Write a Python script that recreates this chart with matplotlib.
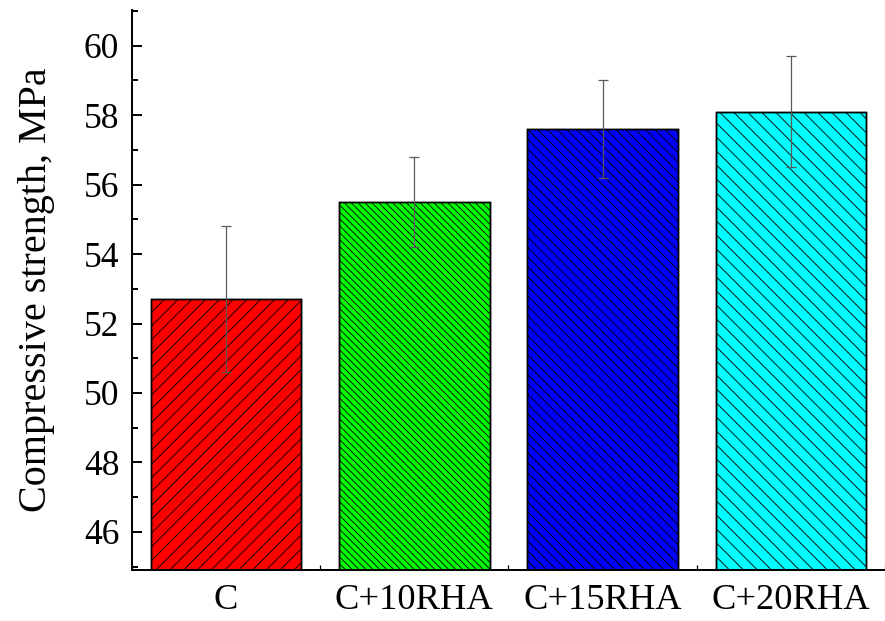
import numpy as np
import matplotlib
matplotlib.use("Agg")
import matplotlib.pyplot as plt
from matplotlib.ticker import MultipleLocator, FixedLocator
from matplotlib.collections import LineCollection
from matplotlib.transforms import IdentityTransform

# compressive strength of concrete mixes
mixes = ["C", "C+10RHA", "C+15RHA", "C+20RHA"]
strength = [52.7, 55.5, 57.6, 58.1]
err = [2.1, 1.3, 1.4, 1.6]
colors = ["#ff0000", "#00ff00", "#0000ff", "#00ffff"]
# hatch direction (+1 = "/", -1 = "\") and line spacing in pixels
hatch_dir = [1, -1, -1, -1]
hatch_gap = [13.8, 6.9, 9.8, 14.0]

plt.rcParams["font.family"] = ["Liberation Serif", "DejaVu Serif"]

DPI = 75
fig = plt.figure(figsize=(885 / DPI, 621 / DPI), dpi=DPI)
ax = fig.add_axes([0.149, 0.082, 0.851, 0.902])

ax.set_xlim(-0.5, 3.5)
ax.set_ylim(44.9, 61.03)

x = np.arange(len(mixes))
bars = ax.bar(x, strength, width=0.8, color=colors, edgecolor="black",
              linewidth=1.4, zorder=2)

# hand made hatching so the line spacing can differ from bar to bar
y_lo = ax.get_ylim()[0]
for bar, d, gap in zip(bars, hatch_dir, hatch_gap):
    (px0, py0), (px1, py1) = ax.transData.transform(
        [[bar.get_x(), y_lo], [bar.get_x() + bar.get_width(), bar.get_height()]])
    h = py1 - py0
    segs = []
    if d > 0:
        for xs in np.arange(px0 - h, px1 + gap, gap):
            segs.append([(xs, py0), (xs + h, py1)])
    else:
        for xs in np.arange(px0, px1 + h + gap, gap):
            segs.append([(xs, py0), (xs - h, py1)])
    lc = LineCollection(segs, colors="black", linewidths=0.85,
                        transform=IdentityTransform(), zorder=2.5)
    ax.add_collection(lc, autolim=False)
    lc.set_clip_path(bar)

# outline again on top of the hatching
ax.bar(x, strength, width=0.8, facecolor="none", edgecolor="black",
       linewidth=1.4, zorder=2.6)

ax.errorbar(x, strength, yerr=err, fmt="none", ecolor="#5a5a5a",
            elinewidth=1.2, capsize=5, capthick=1.2, zorder=3)

ax.set_xlim(-0.5, 3.5)
ax.set_ylim(44.9, 61.03)
ax.set_xticks(x)
ax.set_xticklabels(mixes)
ax.xaxis.set_minor_locator(FixedLocator([-0.5, 0.5, 1.5, 2.5, 3.5]))
ax.set_yticks(np.arange(46, 61, 2))
ax.yaxis.set_minor_locator(MultipleLocator(1))

ax.spines["top"].set_visible(False)
ax.spines["right"].set_visible(False)
ax.spines["left"].set_linewidth(1.9)
ax.spines["bottom"].set_linewidth(1.9)

ax.tick_params(axis="y", which="major", direction="in", length=10, width=1.9,
               labelsize=34, pad=12)
ax.tick_params(axis="y", which="minor", direction="in", length=5.5, width=1.9)
ax.tick_params(axis="x", which="major", direction="in", length=8, width=1.2,
               labelsize=35, pad=13)
ax.tick_params(axis="x", which="minor", direction="in", length=5, width=1.2)

ax.set_ylabel("Compressive strength, MPa", fontsize=38.5, labelpad=28)

fig.savefig("out.png", dpi=DPI)
